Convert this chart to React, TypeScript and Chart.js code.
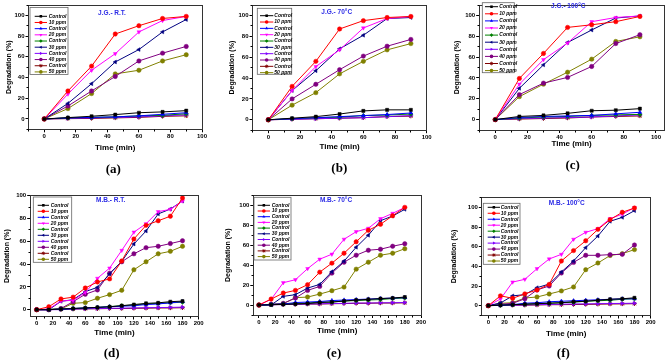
import React, { useEffect, useRef } from 'react';
import { Chart, registerables } from 'chart.js';

Chart.register(...registerables);

// ---------------- data ----------------
const TIME_SHORT = [0, 15, 30, 45, 60, 75, 90];
const TIME_LONG = [0, 15, 30, 45, 60, 75, 90, 105, 120, 135, 150, 165, 180];
const X_TICKS_SHORT = [0, 20, 40, 60, 80, 100];
const X_TICKS_LONG = [0, 20, 40, 60, 80, 100, 120, 140, 160, 180, 200];
const Y_TICKS = [0, 20, 40, 60, 80, 100];
const SERIES_LABELS = ['Control', '10 ppm', 'Control', '20 ppm', 'Control', '30 ppm', 'Control', '40 ppm', 'Control', '50 ppm'];

// (a) J.G. - R.T.
const JG_RT_C1 = [0, 1.3, 2.6, 4.2, 6, 6.8, 8];
const JG_RT_10 = [0, 27, 51, 82, 90, 97, 99];
const JG_RT_C2 = [0, 1, 1.5, 2, 3, 4.5, 6];
const JG_RT_20 = [0, 24, 47, 63, 84, 95, 99];
const JG_RT_C3 = [0, 1, 1.5, 2, 3, 3.5, 5];
const JG_RT_30 = [0, 15, 34, 55, 67, 84, 96];
const JG_RT_C4 = [0, 0.5, 1, 1.5, 2, 3, 4];
const JG_RT_40 = [0, 12.5, 27, 41, 56, 63.5, 70];
const JG_RT_C5 = [0, 0.3, 0.5, 1, 1.5, 2.5, 3];
const JG_RT_50 = [0, 10, 24.5, 43.5, 47, 56, 62];

// (b) J.G. - 70°C
const JG_70_C1 = [0, 1.5, 3, 5.5, 8.5, 9.5, 9.5];
const JG_70_10 = [0, 32, 56, 87, 95, 98, 99];
const JG_70_C2 = [0, 1, 2, 3, 4, 5, 6.5];
const JG_70_20 = [0, 28, 51, 67, 88, 97, 99];
const JG_70_C3 = [0, 1, 2, 2.5, 4, 4.5, 5.5];
const JG_70_30 = [0, 28, 47, 68, 81, 97, 98];
const JG_70_C4 = [0, 0.5, 1, 1.5, 2, 3, 4];
const JG_70_40 = [0, 20, 34, 48, 61, 70.5, 77];
const JG_70_C5 = [0, 0.5, 1, 1.5, 2, 3, 3.5];
const JG_70_50 = [0, 14, 26, 44, 56, 67, 73];

// (c) J.G. - 100°C
const JG_100_C1 = [0, 3, 4, 6, 8.5, 9, 10.5];
const JG_100_10 = [0, 39.5, 63.5, 88.5, 91, 94, 99];
const JG_100_C2 = [0, 2, 3, 3.5, 4, 5.5, 7];
const JG_100_20 = [0, 34, 57.5, 73.5, 94, 98, 99.5];
const JG_100_C3 = [0, 1.5, 2.5, 3, 4, 4.5, 5];
const JG_100_30 = [0, 30, 52.5, 74, 86, 97.5, 99.5];
const JG_100_C4 = [0, 1, 1.5, 2, 2.5, 3.5, 4.5];
const JG_100_40 = [0, 24, 35, 40.5, 51, 73, 81.5];
const JG_100_C5 = [0, 0.5, 1, 1.5, 2.5, 3, 3.5];
const JG_100_50 = [0, 22, 34, 45.5, 58, 75, 79.5];

// (d) M.B. - R.T.
const MB_RT_C1 = [0, 0, 0.5, 1, 1.5, 2, 2.5, 3.5, 4.5, 5.5, 6, 7, 7.5];
const MB_RT_10 = [0, 2.6, 9.4, 11, 19, 24.3, 27, 42.7, 62, 74, 78, 82, 98];
const MB_RT_C2 = [0, 0, 0.5, 1, 1.5, 2, 2.5, 3, 3.5, 4.5, 5, 6, 7];
const MB_RT_20 = [0, 0.6, 7.6, 8.2, 15, 27.5, 36.5, 52, 68, 75.4, 86, 88, 95.3];
const MB_RT_C3 = [0, 0.3, 0.6, 1, 1.5, 2, 2.7, 3.5, 4, 5, 5.5, 6, 6.5];
const MB_RT_30 = [0, 0, 7.3, 8.8, 15.8, 19.6, 31.3, 42.4, 57.6, 69, 84, 88.3, 95.3];
const MB_RT_C4 = [0, 0, 0, 0.5, 0.8, 1, 1.2, 1.3, 1.5, 1.7, 1.8, 2, 2.2];
const MB_RT_40 = [0, 0, 1, 7, 13.5, 17.3, 32, 42, 49, 54.4, 55.6, 58, 60.5];
const MB_RT_C5 = [0, 0, 0.3, 0.5, 0.7, 0.8, 1, 1, 1.2, 1.3, 1.5, 1.5, 1.7];
const MB_RT_50 = [0, 0, 0.6, 5.6, 6.2, 10, 13.2, 17, 35, 42, 49, 51.2, 55.6];

// (e) M.B. - 70°C
const MB_70_C1 = [0, 0.3, 0.7, 1, 1.5, 2.5, 3, 4, 5, 5.7, 6.5, 7, 8];
const MB_70_10 = [0, 6, 12, 14.7, 20.4, 33, 42, 52, 63.5, 75, 81, 89.6, 98];
const MB_70_C2 = [0, 0.5, 1, 2.5, 3, 3.5, 4.5, 5, 5.5, 6, 6.5, 7, 7.5];
const MB_70_20 = [0, 5.7, 22.4, 25.4, 36.5, 46, 51, 66, 73.6, 77, 86.6, 92, 98];
const MB_70_C3 = [0, 0.5, 1, 1.5, 2, 3, 3, 4, 4.5, 5, 5.5, 6.5, 7];
const MB_70_30 = [0, 0, 8.7, 10.4, 17, 20.7, 33.4, 44, 58, 70, 84.6, 89.3, 96];
const MB_70_C4 = [0, 0.3, 0.5, 0.7, 1, 1.3, 1.5, 1.7, 2, 2, 2.2, 2.3, 2.5];
const MB_70_40 = [0, 0.7, 1.7, 7, 14.7, 18.7, 32, 43, 50, 55, 56, 59, 61.5];
const MB_70_C5 = [0, 0.3, 0.5, 0.7, 1, 1, 1.3, 1.5, 1.7, 1.8, 2, 2, 2.2];
const MB_70_50 = [0, 0.7, 1.3, 7.4, 8, 11, 14.4, 18, 36, 43, 50, 52, 56.5];

// (f) M.B. - 100°C
const MB_100_C1 = [0, 0.5, 1, 1.5, 2, 2.5, 3, 4, 4.5, 5.5, 6.5, 7, 8];
const MB_100_10 = [0, 10, 7.5, 12, 16, 21.7, 45.4, 56, 66, 77.6, 87.5, 95, 99.3];
const MB_100_C2 = [0, 0.5, 1, 2.5, 3, 4, 4.5, 5, 5.5, 6, 6.5, 7, 7];
const MB_100_20 = [0, 6.8, 24, 26.8, 37.6, 47.5, 52.2, 67.5, 74.6, 78.3, 88.5, 93, 99.7];
const MB_100_C3 = [0, 0.5, 1, 1.5, 2, 2.5, 3, 3.5, 4.5, 5, 5.5, 6.5, 7];
const MB_100_30 = [0, 2.7, 10, 11.2, 18.3, 22, 34.2, 45.4, 59, 70.8, 85.8, 89.8, 96.6];
const MB_100_C4 = [0, 0.3, 0.5, 0.7, 1, 1.2, 1.5, 1.7, 1.8, 2, 2.2, 2.3, 2.5];
const MB_100_40 = [0, 1.4, 2.4, 7, 16, 20, 33.2, 44, 51.2, 51.2, 51.9, 52.2, 61.7];
const MB_100_C5 = [0, 0.3, 0.5, 0.5, 0.7, 1, 1, 1.2, 1.3, 1.5, 1.7, 1.8, 2];
const MB_100_50 = [0, 2.4, 3, 7.8, 8.8, 11.9, 15, 19, 36.6, 43.4, 51, 52.9, 57];

// ---------------- styles ----------------
const COLORS = ['#000000', '#FF0000', '#0000FF', '#FF00FF', '#008000', '#000080', '#8000FF', '#800080', '#800000', '#808000'];
const POINT_STYLES = ['rect', 'circle', 'triangle', 'triangle', 'rectRot', 'triangle', 'triangle', 'circle', 'star', 'circle'];
const POINT_ROT = [0, 0, 0, 180, 0, 270, 90, 0, 0, 0];
const FONT = "'Liberation Sans', Arial, Helvetica, sans-serif";

type Panel = {
  key: string;
  xs: number[];
  series: number[][];
  xMin: number; xMax: number; yMin: number; yMax: number;
  xTicks: number[];
  note: string;
  label: string;
  canvas: [number, number, number, number];
  plot: [number, number, number, number]; // L, T, R, B (page px)
  legend: { box: [number, number, number, number]; y0: number; dy: number; lx1: number; lx2: number; tx: number };
  notePos: [number, number];
  labelPos: [number, number];
  yTitleX: number;
  xTitleY: number;
};

const PANELS: Panel[] = [
  {
    key: 'a', xs: TIME_SHORT,
    series: [JG_RT_C1, JG_RT_10, JG_RT_C2, JG_RT_20, JG_RT_C3, JG_RT_30, JG_RT_C4, JG_RT_40, JG_RT_C5, JG_RT_50],
    xMin: -10, xMax: 100, yMin: -10, yMax: 110, xTicks: X_TICKS_SHORT,
    note: 'J.G.- R.T.', label: '(a)',
    canvas: [0, 0, 222, 180], plot: [28.5, 5, 202, 129.3],
    legend: { box: [30, 7.5, 68, 74.5], y0: 16.3, dy: 6.18, lx1: 34.7, lx2: 47, tx: 48.7 },
    notePos: [112, 13.3], labelPos: [113.3, 168], yTitleX: 9.3, xTitleY: 148,
  },
  {
    key: 'b', xs: TIME_SHORT,
    series: [JG_70_C1, JG_70_10, JG_70_C2, JG_70_20, JG_70_C3, JG_70_30, JG_70_C4, JG_70_40, JG_70_C5, JG_70_50],
    xMin: -10, xMax: 100, yMin: -10, yMax: 110, xTicks: X_TICKS_SHORT,
    note: 'J.G.- 70°C', label: '(b)',
    canvas: [222, 0, 223, 180], plot: [252.5, 4.5, 426.7, 130.2],
    legend: { box: [257.3, 8.3, 291.7, 74.3], y0: 15.7, dy: 6.33, lx1: 260, lx2: 273.3, tx: 274.3 },
    notePos: [336.7, 12.7], labelPos: [339.3, 166.7], yTitleX: 231.7, xTitleY: 146.7,
  },
  {
    key: 'c', xs: TIME_SHORT,
    series: [JG_100_C1, JG_100_10, JG_100_C2, JG_100_20, JG_100_C3, JG_100_30, JG_100_C4, JG_100_40, JG_100_C5, JG_100_50],
    xMin: -10, xMax: 105, yMin: -10, yMax: 110, xTicks: X_TICKS_SHORT,
    note: 'J.G.- 100°C', label: '(c)',
    canvas: [445, 0, 224, 180], plot: [479.2, 1.3, 664.3, 130],
    legend: { box: [482.3, 2.7, 514.3, 72.7], y0: 6.7, dy: 7.1, lx1: 485, lx2: 498, tx: 499.3 },
    notePos: [568.3, 6], labelPos: [572.7, 164.3], yTitleX: 456.7, xTitleY: 144,
  },
  {
    key: 'd', xs: TIME_LONG,
    series: [MB_RT_C1, MB_RT_10, MB_RT_C2, MB_RT_20, MB_RT_C3, MB_RT_30, MB_RT_C4, MB_RT_40, MB_RT_C5, MB_RT_50],
    xMin: -8, xMax: 200, yMin: -6, yMax: 100, xTicks: X_TICKS_LONG,
    note: 'M.B.- R.T.', label: '(d)',
    canvas: [0, 180, 222, 180], plot: [30.2, 195.7, 198.7, 316.5],
    legend: { box: [33.3, 197, 71.7, 262.3], y0: 205.3, dy: 6.0, lx1: 37.7, lx2: 49, tx: 50.7 },
    notePos: [110.7, 200.7], labelPos: [111.7, 351.7], yTitleX: 7.3, xTitleY: 332.7,
  },
  {
    key: 'e', xs: TIME_LONG,
    series: [MB_70_C1, MB_70_10, MB_70_C2, MB_70_20, MB_70_C3, MB_70_30, MB_70_C4, MB_70_40, MB_70_C5, MB_70_50],
    xMin: -7, xMax: 200, yMin: -10, yMax: 110, xTicks: X_TICKS_LONG,
    note: 'M.B.- 70°C', label: '(e)',
    canvas: [222, 180, 223, 180], plot: [253.3, 195.4, 421, 315],
    legend: { box: [254, 197.3, 291, 260], y0: 205.3, dy: 5.7, lx1: 257.7, lx2: 270, tx: 271.7 },
    notePos: [336, 200.7], labelPos: [334, 351.7], yTitleX: 228.3, xTitleY: 331,
  },
  {
    key: 'f', xs: TIME_LONG,
    series: [MB_100_C1, MB_100_10, MB_100_C2, MB_100_20, MB_100_C3, MB_100_30, MB_100_C4, MB_100_40, MB_100_C5, MB_100_50],
    xMin: -8, xMax: 200, yMin: -10, yMax: 110, xTicks: X_TICKS_LONG,
    note: 'M.B.- 100°C', label: '(f)',
    canvas: [445, 180, 224, 180], plot: [481.8, 197.5, 650.7, 315.5],
    legend: { box: [483.3, 203.3, 520, 264.3], y0: 207.3, dy: 5.97, lx1: 487.7, lx2: 500, tx: 500.7 },
    notePos: [566.7, 203.3], labelPos: [563.3, 352.3], yTitleX: 454, xTitleY: 333.3,
  },
];

function drawMarker(ctx: CanvasRenderingContext2D, style: string, rot: number, x: number, y: number, r: number, color: string) {
  ctx.save();
  ctx.translate(x, y);
  ctx.rotate((rot * Math.PI) / 180);
  ctx.fillStyle = color;
  ctx.strokeStyle = color;
  ctx.lineWidth = 0.8;
  ctx.beginPath();
  if (style === 'rect') {
    const s = r * Math.SQRT1_2;
    ctx.rect(-s, -s, 2 * s, 2 * s);
    ctx.fill();
  } else if (style === 'rectRot') {
    ctx.moveTo(0, -r); ctx.lineTo(r, 0); ctx.lineTo(0, r); ctx.lineTo(-r, 0); ctx.closePath();
    ctx.fill();
  } else if (style === 'triangle') {
    for (let k = 0; k < 3; k++) {
      const a = (k * 2 * Math.PI) / 3;
      const px = Math.sin(a) * r, py = -Math.cos(a) * r;
      if (k === 0) ctx.moveTo(px, py); else ctx.lineTo(px, py);
    }
    ctx.closePath();
    ctx.fill();
  } else if (style === 'star') {
    for (let k = 0; k < 4; k++) {
      const a = (k * Math.PI) / 4;
      ctx.moveTo(Math.cos(a) * r, Math.sin(a) * r);
      ctx.lineTo(-Math.cos(a) * r, -Math.sin(a) * r);
    }
    ctx.stroke();
  } else {
    ctx.arc(0, 0, r, 0, Math.PI * 2);
    ctx.fill();
  }
  ctx.restore();
}

function makeOverlay(p: Panel) {
  return {
    id: 'overlay_' + p.key,
    afterDraw(chart: any) {
      const ctx: CanvasRenderingContext2D = chart.ctx;
      const { left, top, right, bottom } = chart.chartArea;
      const ox = p.canvas[0], oy = p.canvas[1];
      const xs = chart.scales.x, ys = chart.scales.y;
      ctx.save();
      // frame
      ctx.strokeStyle = '#333';
      ctx.lineWidth = 1;
      const al = (v: number) => Math.floor(v) + 0.5;
      ctx.strokeRect(al(left), al(top), al(right) - al(left), al(bottom) - al(top));
      // minor ticks
      ctx.strokeStyle = '#000';
      ctx.beginPath();
      for (let v = Math.ceil(p.xMin / 10) * 10; v <= p.xMax; v += 10) {
        if (v % 20 === 0) continue;
        const px = al(xs.getPixelForValue(v));
        ctx.moveTo(px, al(bottom)); ctx.lineTo(px, al(bottom) + 2);
      }
      for (let v = Math.ceil(p.yMin / 10) * 10; v <= p.yMax; v += 10) {
        if (v % 20 === 0) continue;
        const py = al(ys.getPixelForValue(v));
        ctx.moveTo(al(left), py); ctx.lineTo(al(left) - 2, py);
      }
      ctx.stroke();
      // legend
      const lg = p.legend;
      const [bx1, by1, bx2, by2] = lg.box;
      ctx.fillStyle = '#fff';
      ctx.fillRect(bx1 - ox, by1 - oy, bx2 - bx1, by2 - by1);
      ctx.strokeStyle = '#666';
      ctx.lineWidth = 0.8;
      ctx.strokeRect(bx1 - ox, by1 - oy, bx2 - bx1, by2 - by1);
      ctx.font = `italic bold 5px ${FONT}`;
      ctx.textBaseline = 'middle';
      ctx.textAlign = 'left';
      SERIES_LABELS.forEach((lab, i) => {
        const y = lg.y0 + i * lg.dy - oy;
        ctx.strokeStyle = COLORS[i];
        ctx.lineWidth = 1;
        ctx.beginPath();
        ctx.moveTo(lg.lx1 - ox, y); ctx.lineTo(lg.lx2 - ox, y);
        ctx.stroke();
        drawMarker(ctx, POINT_STYLES[i], POINT_ROT[i], (lg.lx1 + lg.lx2) / 2 - ox, y, 1.8, COLORS[i]);
        ctx.fillStyle = '#000';
        ctx.fillText(lab, lg.tx - ox, y);
      });
      // note
      ctx.font = `bold 6.5px ${FONT}`;
      ctx.fillStyle = '#2a2ae6';
      ctx.textAlign = 'center';
      ctx.fillText(p.note, p.notePos[0] - ox, p.notePos[1] - oy);
      ctx.restore();
    },
  };
}

function buildConfig(p: Panel): any {
  const [cx, cy, cw, ch] = p.canvas;
  const [L, T, R, B] = p.plot;
  const tickFont = { family: FONT, size: 6, weight: 'bold' as const };
  return {
    type: 'line',
    data: {
      datasets: p.series.map((vals, i) => ({
        label: SERIES_LABELS[i],
        data: p.xs.map((x, j) => ({ x, y: vals[j] })),
        borderColor: COLORS[i],
        backgroundColor: COLORS[i],
        borderWidth: 1,
        pointStyle: POINT_STYLES[i],
        pointRotation: POINT_ROT[i],
        pointRadius: 2.2,
        pointBorderWidth: POINT_STYLES[i] === 'star' ? 1 : 0.5,
        tension: 0,
        fill: false,
      })),
    },
    options: {
      responsive: false,
      animation: false,
      events: [],
      layout: { padding: { left: 0, top: T - cy, right: cx + cw - R, bottom: 0 } },
      plugins: { legend: { display: false }, tooltip: { enabled: false }, title: { display: false } },
      scales: {
        x: {
          type: 'linear',
          min: p.xMin,
          max: p.xMax,
          afterBuildTicks: (s: any) => { s.ticks = p.xTicks.map((v) => ({ value: v })); },
          afterFit: (s: any) => { s.height = cy + ch - B; s.paddingLeft = 0; s.paddingRight = 0; },
          grid: { drawOnChartArea: false, drawTicks: true, tickLength: 3, color: '#000', lineWidth: 1 },
          border: { display: false },
          ticks: { font: tickFont, color: '#000', padding: 0.5, maxRotation: 0, autoSkip: false },
          title: {
            display: true, text: 'Time (min)', color: '#000',
            font: { family: FONT, size: 8, weight: 'bold' },
            padding: { top: 0, bottom: cy + ch - p.xTitleY - 4.8 },
          },
        },
        y: {
          type: 'linear',
          min: p.yMin,
          max: p.yMax,
          afterBuildTicks: (s: any) => { s.ticks = Y_TICKS.map((v) => ({ value: v })); },
          afterFit: (s: any) => { s.width = L - cx; s.paddingTop = 0; s.paddingBottom = 0; },
          grid: { drawOnChartArea: false, drawTicks: true, tickLength: 3, color: '#000', lineWidth: 1 },
          border: { display: false },
          ticks: { font: tickFont, color: '#000', padding: 1, autoSkip: false },
          title: {
            display: true, text: 'Degradation (%)', color: '#000',
            font: { family: FONT, size: 7, weight: 'bold' },
            padding: { top: p.yTitleX - cx - 4.2, bottom: 0 },
          },
        },
      },
    },
    plugins: [makeOverlay(p)],
  };
}

function PanelChart({ p }: { p: Panel }) {
  const ref = useRef<HTMLCanvasElement>(null);
  useEffect(() => {
    const chart = new Chart(ref.current as HTMLCanvasElement, buildConfig(p));
    return () => chart.destroy();
  }, [p]);
  const [cx, cy, cw, ch] = p.canvas;
  return (
    <canvas
      ref={ref}
      width={cw}
      height={ch}
      style={{ position: 'absolute', left: cx, top: cy, width: cw, height: ch }}
    />
  );
}

export default function App() {
  return (
    <div style={{ position: 'absolute', left: 0, top: 0, width: 669, height: 360, background: '#fff', overflow: 'hidden' }}>
      {PANELS.map((p) => (
        <PanelChart key={p.key} p={p} />
      ))}
      {PANELS.map((p) => (
        <div
          key={'lab' + p.key}
          style={{
            position: 'absolute',
            left: p.labelPos[0],
            top: p.labelPos[1],
            transform: 'translate(-50%, -50%)',
            font: "bold 13px 'Liberation Serif', 'Times New Roman', serif",
            lineHeight: 1,
            whiteSpace: 'nowrap',
            color: '#000',
          }}
        >
          {p.label}
        </div>
      ))}
    </div>
  );
}
